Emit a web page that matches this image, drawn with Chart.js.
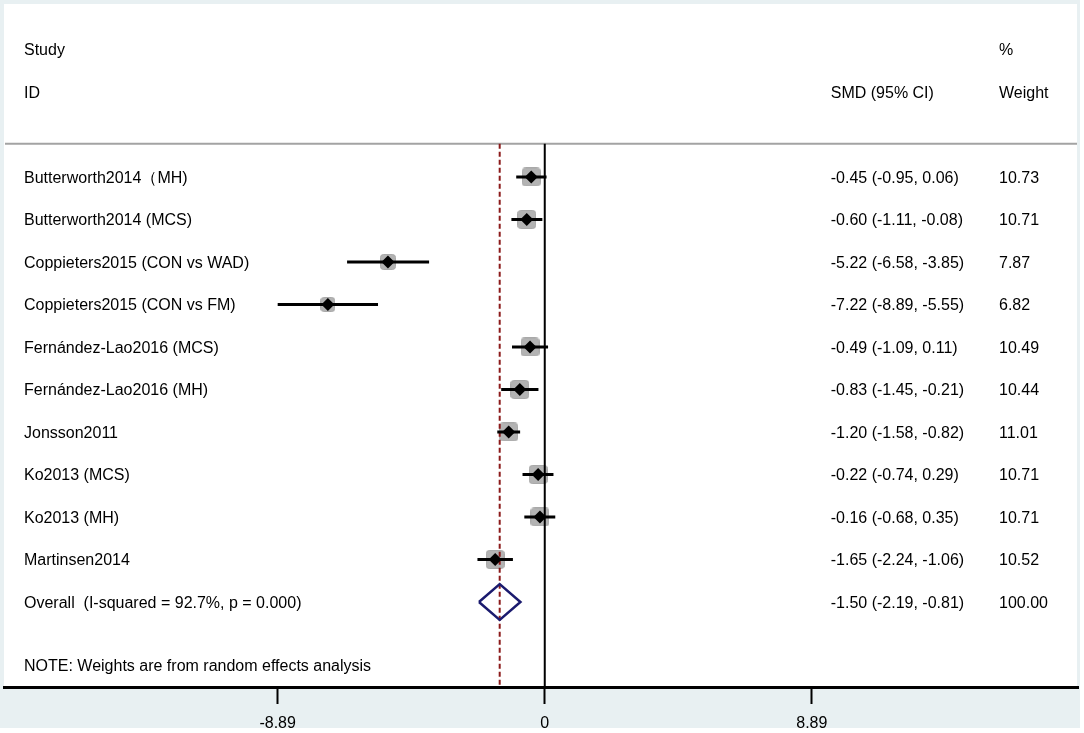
<!DOCTYPE html>
<html><head><meta charset="utf-8">
<script src="https://cdn.jsdelivr.net/npm/chart.js@4"></script>
<style>html,body{margin:0;padding:0;background:#fff;overflow:hidden}#c{display:block}</style>
</head><body>
<div style="width:1084px;height:733px;position:relative"><canvas id="c"></canvas></div>
<script>
// ---- data ----
const studies = ["Butterworth2014（MH)", "Butterworth2014 (MCS)", "Coppieters2015 (CON vs WAD)", "Coppieters2015 (CON vs FM)", "Fernández-Lao2016 (MCS)", "Fernández-Lao2016 (MH)", "Jonsson2011", "Ko2013 (MCS)", "Ko2013 (MH)", "Martinsen2014"];
const smd    = [-0.45, -0.60, -5.22, -7.22, -0.49, -0.83, -1.20, -0.22, -0.16, -1.65];
const ciLow  = [-0.95, -1.11, -6.58, -8.89, -1.09, -1.45, -1.58, -0.74, -0.68, -2.24];
const ciHigh = [ 0.06, -0.08, -3.85, -5.55,  0.11, -0.21, -0.82,  0.29,  0.35, -1.06];
const weights = [10.73, 10.71, 7.87, 6.82, 10.49, 10.44, 11.01, 10.71, 10.71, 10.52];
const overallLabel = "Overall  (I-squared = 92.7%, p = 0.000)";
const overallEst = -1.50, overallLow = -2.19, overallHigh = -0.81, overallWeight = 100.00;
const tickValues = [-8.89, 0, 8.89];
const tickLabels = ["-8.89", "0", "8.89"];
const headerStudy = ["Study", "ID"];
const headerSmd = "SMD (95% CI)";
const headerWeight = ["%", "Weight"];
const noteText = "NOTE: Weights are from random effects analysis";

// ---- layout / style constants ----
const FONT = '"Liberation Sans", Arial, sans-serif';
const X_MIN = -18.0, X_MAX = 17.75;
const Y_MIN = -4.07, Y_MAX = 12.0;
const SEP_ROW = -0.78, HEAD1_ROW = -3, HEAD2_ROW = -2, NOTE_ROW = 11.48;
const OVERALL_ROW = studies.length;
const COL_SMD = 9.52, COL_WEIGHT = 15.12, STUDY_OFFSET = 20, TEXT_DY = 1.5;
const BOX_SCALE = 5.8, DIAMOND_HALF = 0.42;

function boxImage(w) {
  const side = Math.round(BOX_SCALE * Math.sqrt(w));
  const c = document.createElement('canvas');
  c.width = side; c.height = side;
  const g = c.getContext('2d');
  g.fillStyle = '#b3b3b3';
  g.strokeStyle = '#a9a9a9';
  g.lineWidth = 1;
  g.beginPath();
  g.roundRect(0.5, 0.5, side - 1, side - 1, 3);
  g.fill(); g.stroke();
  return c;
}
const boxes = weights.map(boxImage);

const ciData = [];
smd.forEach((v, i) => {
  ciData.push({x: ciLow[i], y: i}, {x: ciHigh[i], y: i}, {x: null, y: null});
});
const diamondData = [
  {x: overallLow, y: OVERALL_ROW},
  {x: overallEst, y: OVERALL_ROW - DIAMOND_HALF},
  {x: overallHigh, y: OVERALL_ROW},
  {x: overallEst, y: OVERALL_ROW + DIAMOND_HALF},
  {x: overallLow, y: OVERALL_ROW}
];
const fmt = v => v.toFixed(2);

const bgPlugin = {
  id: 'bg',
  beforeDraw(chart) {
    const {ctx, chartArea: a} = chart;
    ctx.save();
    ctx.fillStyle = '#ffffff';
    ctx.fillRect(0, 0, chart.width, chart.height);
    ctx.fillStyle = '#e8f0f2';
    ctx.fillRect(0, 0, 1080, 728);
    ctx.fillStyle = '#ffffff';
    ctx.fillRect(a.left, a.top, a.right - a.left - 1, a.bottom - a.top);
    ctx.restore();
  },
  beforeDatasetsDraw(chart) {
    const {ctx, chartArea: a, scales: {y}} = chart;
    const yy = y.getPixelForValue(SEP_ROW);
    ctx.save();
    ctx.strokeStyle = '#a3a3a3';
    ctx.lineWidth = 2;
    ctx.beginPath();
    ctx.moveTo(a.left + 1, yy); ctx.lineTo(a.right - 1, yy);
    ctx.stroke();
    ctx.restore();
  }
};

const textPlugin = {
  id: 'texts',
  afterDraw(chart) {
    const {ctx, chartArea: a, scales: {x, y}} = chart;
    ctx.save();
    ctx.font = '16px ' + FONT;
    ctx.fillStyle = '#000';
    ctx.textBaseline = 'middle';
    ctx.textAlign = 'left';
    const ty = r => y.getPixelForValue(r) + TEXT_DY;
    const sx = a.left + STUDY_OFFSET;
    const mx = x.getPixelForValue(COL_SMD);
    const wx = x.getPixelForValue(COL_WEIGHT);
    ctx.fillText(headerStudy[0], sx, ty(HEAD1_ROW));
    ctx.fillText(headerStudy[1], sx, ty(HEAD2_ROW));
    ctx.fillText(headerWeight[0], wx, ty(HEAD1_ROW));
    ctx.fillText(headerWeight[1], wx, ty(HEAD2_ROW));
    ctx.fillText(headerSmd, mx, ty(HEAD2_ROW));
    studies.forEach((s, i) => {
      const yy = ty(i);
      ctx.fillText(s, sx, yy);
      ctx.fillText(fmt(smd[i]) + ' (' + fmt(ciLow[i]) + ', ' + fmt(ciHigh[i]) + ')', mx, yy);
      ctx.fillText(fmt(weights[i]), wx, yy);
    });
    const oy = ty(OVERALL_ROW);
    ctx.fillText(overallLabel, sx, oy);
    ctx.fillText(fmt(overallEst) + ' (' + fmt(overallLow) + ', ' + fmt(overallHigh) + ')', mx, oy);
    ctx.fillText(fmt(overallWeight), wx, oy);
    ctx.fillText(noteText, sx, ty(NOTE_ROW));
    ctx.restore();
  }
};

new Chart(document.getElementById('c'), {
  type: 'scatter',
  data: {
    datasets: [
      {label: 'estimate', data: smd.map((v, i) => ({x: v, y: i})), pointStyle: 'rectRot', pointRadius: 6.5,
       backgroundColor: '#000', borderColor: '#000', borderWidth: 0, order: 0},
      {label: 'overall', data: diamondData, showLine: true, pointRadius: 0, borderColor: '#1a1a6e',
       borderWidth: 2.5, borderJoinStyle: 'miter', fill: false, order: 0},
      {label: 'ci', data: ciData, showLine: true, spanGaps: false, pointRadius: 0, borderColor: '#000',
       borderWidth: 3, borderCapStyle: 'butt', order: 1},
      {label: 'zero', data: [{x: 0, y: SEP_ROW}, {x: 0, y: Y_MAX}], showLine: true, pointRadius: 0,
       borderColor: '#000', borderWidth: 2, order: 2},
      {label: 'pooled', data: [{x: overallEst, y: SEP_ROW}, {x: overallEst, y: Y_MAX}], showLine: true, pointRadius: 0,
       borderColor: '#8b1a1a', borderWidth: 2, borderDash: [5, 3], order: 2},
      {label: 'boxes', data: smd.map((v, i) => ({x: v, y: i})), pointStyle: boxes, pointRadius: 10, order: 3}
    ]
  },
  options: {
    responsive: true,
    maintainAspectRatio: false,
    animation: false,
    events: [],
    layout: {autoPadding: false, padding: {left: 4, right: 6, top: 4, bottom: 0}},
    plugins: {legend: {display: false}, tooltip: {enabled: false}, title: {display: false}},
    scales: {
      x: {
        type: 'linear', position: 'bottom', min: X_MIN, max: X_MAX,
        afterBuildTicks: s => { s.ticks = tickValues.map(v => ({value: v})); },
        afterFit: s => { s.height = 46; },
        ticks: {callback: (v, i) => tickLabels[i], color: '#000', padding: 10, maxRotation: 0, autoSkip: false,
                font: {family: FONT, size: 16}},
        grid: {display: true, drawOnChartArea: false, drawTicks: true, tickLength: 17, tickColor: '#000', tickWidth: 2, color: '#000'},
        border: {display: true, color: '#000', width: 3}
      },
      y: {type: 'linear', display: false, min: Y_MIN, max: Y_MAX, reverse: true}
    }
  },
  plugins: [bgPlugin, textPlugin]
});
</script>
</body></html>
